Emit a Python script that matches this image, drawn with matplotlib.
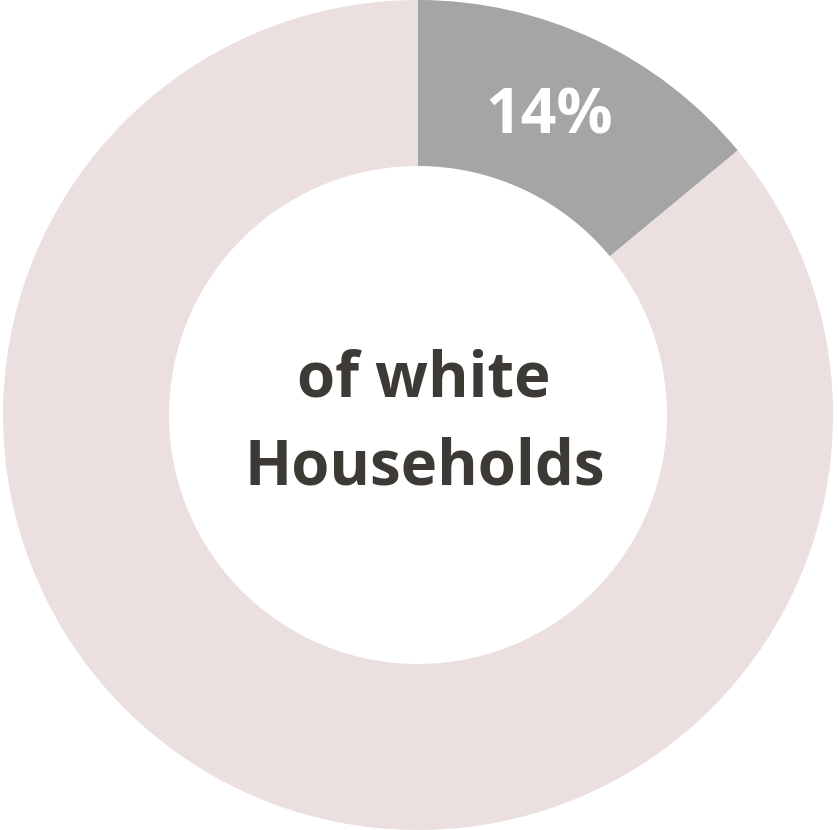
import matplotlib
matplotlib.use("Agg")
import matplotlib.pyplot as plt

labels = ["White households", "Other"]
values = [14, 86]
colors = ["#a5a5a5", "#ecdfdf"]
pct_label = "14%"
center_text = "of white\nHouseholds"

W, H = 838, 830
fig = plt.figure(figsize=(W / 100, H / 100), dpi=100)
ax = fig.add_axes([0, 0, 1, 1])
R = 415.0
cx, cy = 418.0, 415.0
ax.pie(values, colors=colors, startangle=90, counterclock=False,
       radius=1.0, wedgeprops=dict(width=0.40, linewidth=0))
ax.set_xlim(-cx / R, (W - cx) / R)
ax.set_ylim(-(H - cy) / R, cy / R)
ax.set_aspect("auto")
ax.axis("off")

def px(x, y):
    return (x - cx) / R, (cy - y) / R

fam = ["Open Sans", "DejaVu Sans"]
x, y = px(549, 117)
ax.text(x, y, pct_label, ha="center", va="center", color="white",
        fontsize=45, fontweight="bold", family=fam)
x, y = px(424, 380)
ax.text(x, y, "of white", ha="center", va="center", color="#3d3a36",
        fontsize=44.5, fontweight="bold", family=fam)
x, y = px(425, 468)
ax.text(x, y, "Households", ha="center", va="center", color="#3d3a36",
        fontsize=44.5, fontweight="bold", family=fam)

fig.savefig("out.png", dpi=100, facecolor="white")
